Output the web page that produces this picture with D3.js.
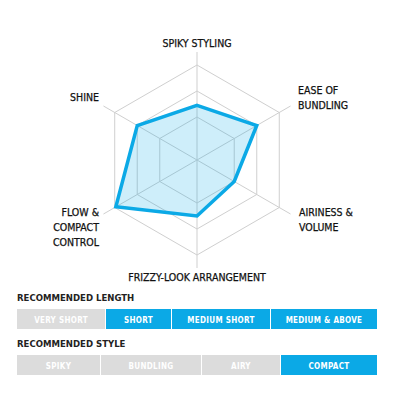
<!DOCTYPE html>
<html><head><meta charset="utf-8">
<script src="https://cdn.jsdelivr.net/npm/d3@7"></script>
<style>
body{margin:0;background:#fff;}
svg{display:block;font-family:"DejaVu Sans Condensed","DejaVu Sans",sans-serif;}
</style></head>
<body>
<svg id="c" width="400" height="400"></svg>
<script>
const axes = ["SPIKY STYLING", "EASE OF BUNDLING", "AIRINESS & VOLUME", "FRIZZY-LOOK ARRANGEMENT", "FLOW & COMPACT CONTROL", "SHINE"];
const axisLabelLines = [["SPIKY STYLING"], ["EASE OF", "BUNDLING"], ["AIRINESS &", "VOLUME"], ["FRIZZY-LOOK ARRANGEMENT"], ["FLOW &", "COMPACT", "CONTROL"], ["SHINE"]];
const values = [1.45, 2.0, 1.0, 1.5, 2.95, 2.0];
const ringLevels = [1, 2, 3];
const lengthOptions = ["VERY SHORT", "SHORT", "MEDIUM SHORT", "MEDIUM & ABOVE"];
const lengthActive = [false, true, true, true];
const styleOptions = ["SPIKY", "BUNDLING", "AIRY", "COMPACT"];
const styleActive = [false, false, false, true];
const lengthWidths = [88, 65, 98, 106];
const styleWidths = [83, 100, 78, 96];

const BLUE = "#0ba9e6", GREY = "#dcdcdc";
const svg = d3.select("#c");
const cx = 197, cy = 160;
const r = d3.scaleLinear().domain([0, 3]).range([17, 95]);
const ang = d3.scaleLinear().domain([0, axes.length]).range([0, 2 * Math.PI]);
const pt = (i, rad) => [cx + rad * Math.sin(ang(i)), cy - rad * Math.cos(ang(i))];

const g = svg.append("g");
ringLevels.forEach(l => {
  g.append("polygon")
    .attr("points", axes.map((a, i) => pt(i, r(l)).join(",")).join(" "))
    .attr("fill", "none").attr("stroke", "#cfcfcf").attr("stroke-width", 1);
});
axes.forEach((a, i) => {
  const p = pt(i, 108);
  g.append("line").attr("x1", cx).attr("y1", cy).attr("x2", p[0]).attr("y2", p[1])
    .attr("stroke", "#cfcfcf").attr("stroke-width", 1);
});
const line = d3.lineRadial().angle((d, i) => ang(i)).radius(d => r(d)).curve(d3.curveLinearClosed);
g.append("path").attr("transform", `translate(${cx},${cy})`)
  .attr("d", line(values))
  .attr("fill", "rgba(11,169,230,0.2)").attr("stroke", BLUE).attr("stroke-width", 3.5)
  .attr("stroke-linejoin", "miter");

const labelPos = [
  {x: 197, y: 47, anchor: "middle"},
  {x: 298, y: 94, anchor: "start"},
  {x: 299, y: 216, anchor: "start"},
  {x: 197, y: 281, anchor: "middle"},
  {x: 99, y: 216, anchor: "end"},
  {x: 99, y: 101, anchor: "end"}
];
axisLabelLines.forEach((lines, i) => {
  const t = svg.append("text").attr("x", labelPos[i].x).attr("y", labelPos[i].y)
    .attr("text-anchor", labelPos[i].anchor).attr("font-size", 10.5).attr("fill", "#111")
    .attr("stroke", "#111").attr("stroke-width", 0.25);
  lines.forEach((s, j) => t.append("tspan").attr("x", labelPos[i].x).attr("dy", j ? 15 : 0).text(s));
});

function barRow(title, titleY, barY, opts, active, widths) {
  svg.append("text").attr("x", 17).attr("y", titleY).attr("font-size", 9.5)
    .attr("font-weight", "bold").attr("fill", "#222").text(title);
  let x = 17;
  const xs = widths.map(w => { const v = x; x += w + 1; return v; });
  opts.forEach((o, i) => {
    svg.append("rect").attr("x", xs[i]).attr("y", barY).attr("width", widths[i]).attr("height", 20)
      .attr("fill", active[i] ? BLUE : GREY);
    svg.append("text").attr("x", xs[i] + widths[i] / 2).attr("y", barY + 13.5)
      .attr("text-anchor", "middle").attr("font-size", 8).attr("font-weight", "bold")
      .attr("fill", "#fff").attr("letter-spacing", 0.3).text(o);
  });
}
barRow("RECOMMENDED LENGTH", 301, 309, lengthOptions, lengthActive, lengthWidths);
barRow("RECOMMENDED STYLE", 347, 355, styleOptions, styleActive, styleWidths);
</script>
</body></html>
